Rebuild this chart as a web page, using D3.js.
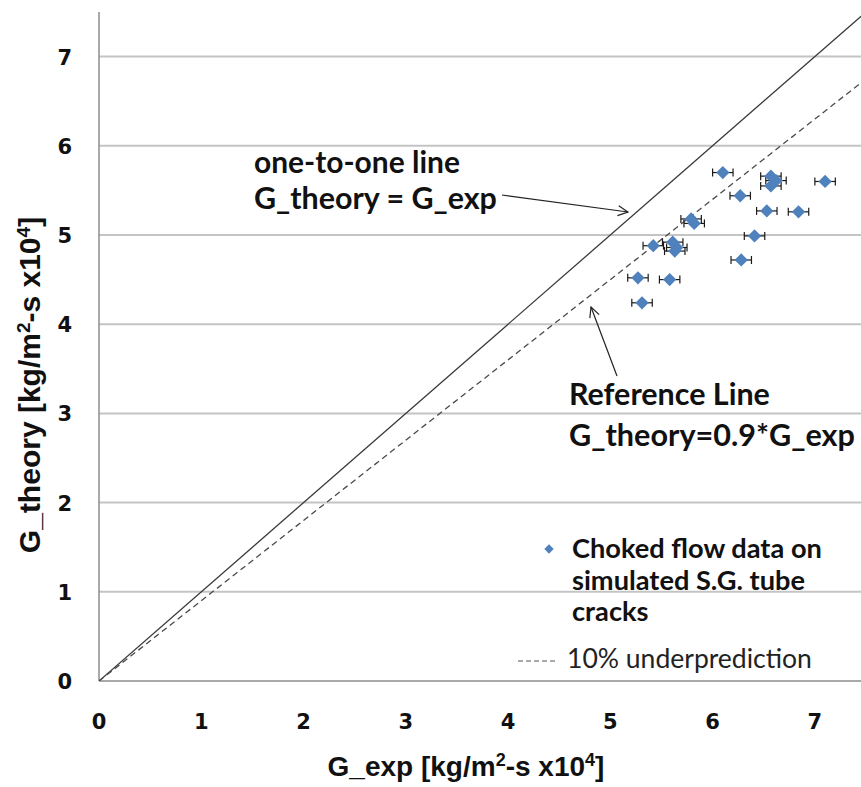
<!DOCTYPE html>
<html>
<head>
<meta charset="utf-8">
<script src="https://cdn.jsdelivr.net/npm/d3@7/dist/d3.min.js"></script>
<style>
  html, body { margin: 0; padding: 0; background: #fff; }
  svg { display: block; }
</style>
</head>
<body>
<svg id="chart" width="861" height="787"></svg>
<script>
// Measured choked mass flux: experiment vs. theory (units of 10^4 kg/m²-s)
const gExp    = [6.10, 6.57, 6.62, 6.57, 7.10, 6.27, 6.53, 6.84, 5.79, 5.82, 6.41, 5.42, 5.61, 5.63, 5.65, 6.28, 5.27, 5.58, 5.31];
const gTheory = [5.70, 5.66, 5.61, 5.55, 5.60, 5.44, 5.27, 5.26, 5.18, 5.13, 4.99, 4.88, 4.92, 4.82, 4.86, 4.72, 4.52, 4.50, 4.24];
const gExpErr = [0.10, 0.10, 0.10, 0.10, 0.10, 0.10, 0.10, 0.10, 0.10, 0.10, 0.10, 0.10, 0.10, 0.10, 0.10, 0.10, 0.10, 0.10, 0.10];

const xTicks = [0, 1, 2, 3, 4, 5, 6, 7];
const yTicks = [0, 1, 2, 3, 4, 5, 6, 7];
const refLines = [
  { name: "one-to-one", slope: 1.0 },
  { name: "underprediction", slope: 0.9 }
];

const svg = d3.select("#chart");
const x = d3.scaleLinear().domain([0, 7.5]).range([99, 866]);
const y = d3.scaleLinear().domain([0, 7.5]).range([681, 12]);

const BLUE = "#4f81bd";

// horizontal gridlines
svg.append("g").selectAll("line")
  .data(yTicks.filter(d => d > 0))
  .join("line")
  .attr("x1", x(0)).attr("x2", 861)
  .attr("y1", d => y(d)).attr("y2", d => y(d))
  .attr("stroke", "#c4c4c4").attr("stroke-width", 2);

// axes lines
svg.append("line").attr("x1", x(0)).attr("x2", 861).attr("y1", y(0)).attr("y2", y(0))
  .attr("stroke", "#8c8c8c").attr("stroke-width", 1.5);
svg.append("line").attr("x1", x(0)).attr("x2", x(0)).attr("y1", y(0)).attr("y2", y(7.5))
  .attr("stroke", "#8c8c8c").attr("stroke-width", 1.5);

// tick labels
const tickFont = "'DejaVu Sans', Verdana, sans-serif";
svg.append("g").selectAll("text")
  .data(xTicks).join("text")
  .attr("x", d => x(d)).attr("y", 729)
  .attr("text-anchor", "middle")
  .attr("font-family", tickFont).attr("font-weight", "bold").attr("font-size", 21)
  .attr("fill", "#111")
  .text(d => d);
svg.append("g").selectAll("text")
  .data(yTicks).join("text")
  .attr("x", 72).attr("y", d => y(d) + 8)
  .attr("text-anchor", "end")
  .attr("font-family", tickFont).attr("font-weight", "bold").attr("font-size", 21)
  .attr("fill", "#111")
  .text(d => d);

// axis titles
const titleFont = "'Liberation Sans Narrow', 'Arial Narrow', 'Liberation Sans', sans-serif";
function axisTitle(sel, main, sup) {
  sel.append("tspan").text(main + " [kg/m");
  sel.append("tspan").attr("dy", -10).attr("font-size", sup).text("2");
  sel.append("tspan").attr("dy", 10).text("-s x10");
  sel.append("tspan").attr("dy", -10).attr("font-size", sup).text("4");
  sel.append("tspan").attr("dy", 10).text("]");
}
const xt = svg.append("text")
  .attr("x", 466).attr("y", 776).attr("text-anchor", "middle")
  .attr("font-family", titleFont).attr("font-weight", "bold").attr("font-size", 28)
  .attr("fill", "#111");
axisTitle(xt, "G_exp", 18);

const yt = svg.append("text")
  .attr("transform", "translate(40,385) rotate(-90)")
  .attr("text-anchor", "middle")
  .attr("font-family", titleFont).attr("font-weight", "bold").attr("font-size", 30)
  .attr("fill", "#111");
axisTitle(yt, "G_theory", 19);

// reference lines G_theory = k * G_exp
svg.append("defs").append("clipPath").attr("id", "plotClip")
  .append("rect").attr("x", x(0)).attr("y", y(7.5)).attr("width", 861 - x(0)).attr("height", y(0) - y(7.5));
const lineGen = d3.line().x(d => x(d[0])).y(d => y(d[1]));
svg.append("g").attr("clip-path", "url(#plotClip)").selectAll("path")
  .data(refLines).join("path")
  .attr("d", d => lineGen([[0, 0], [8, 8 * d.slope]]))
  .attr("fill", "none")
  .attr("stroke", d => d.slope === 1 ? "#3a3a3a" : "#4a4a4a")
  .attr("stroke-width", 1.3)
  .attr("stroke-dasharray", d => d.slope === 1 ? null : "6,4");

// error bars
const eb = svg.append("g").attr("stroke", "#1a1a1a").attr("stroke-width", 1.2);
gExp.forEach((gx, i) => {
  const cy = y(gTheory[i]);
  const x0 = x(gx - gExpErr[i]), x1 = x(gx + gExpErr[i]);
  eb.append("line").attr("x1", x0).attr("x2", x1).attr("y1", cy).attr("y2", cy);
  eb.append("line").attr("x1", x0).attr("x2", x0).attr("y1", cy - 4).attr("y2", cy + 4);
  eb.append("line").attr("x1", x1).attr("x2", x1).attr("y1", cy - 4).attr("y2", cy + 4);
});

// square diamond marker
const squareDiamond = {
  draw(ctx, size) {
    const r = Math.sqrt(size / 2);
    ctx.moveTo(0, -r); ctx.lineTo(r, 0); ctx.lineTo(0, r); ctx.lineTo(-r, 0); ctx.closePath();
  }
};
svg.append("g").selectAll("path")
  .data(gExp.map((gx, i) => [gx, gTheory[i]]))
  .join("path")
  .attr("transform", d => `translate(${x(d[0])},${y(d[1])})`)
  .attr("d", d3.symbol().type(squareDiamond).size(88))
  .attr("fill", BLUE);

// annotations
const annFont = "Lato, 'Open Sans', sans-serif";
function fitText(sel, width) {
  const w = sel.node().getComputedTextLength();
  const fs = parseFloat(sel.attr("font-size"));
  sel.attr("font-size", fs * width / w);
}
const ann = [
  { t: "one-to-one line", x: 254, y: 173, w: 206 },
  { t: "G_theory = G_exp", x: 254, y: 209, w: 243 },
  { t: "Reference Line", x: 569, y: 405, w: 201 },
  { t: "G_theory=0.9*G_exp", x: 569, y: 446, w: 286 }
];
ann.forEach(a => {
  const t = svg.append("text").attr("x", a.x).attr("y", a.y)
    .attr("font-family", annFont).attr("font-weight", "bold").attr("font-size", 26)
    .attr("fill", "#111").text(a.t);
  fitText(t, a.w);
});

// arrows
const defs = svg.select("defs");
defs.append("marker").attr("id", "arrowOpen")
  .attr("viewBox", "0 0 12 12").attr("refX", 11).attr("refY", 6)
  .attr("markerWidth", 12).attr("markerHeight", 12).attr("markerUnits", "userSpaceOnUse")
  .attr("orient", "auto")
  .append("path").attr("d", "M1,1 L11,6 L1,11").attr("fill", "none")
  .attr("stroke", "#222").attr("stroke-width", 1.2);
svg.append("line").attr("x1", 502).attr("y1", 195).attr("x2", 628).attr("y2", 212)
  .attr("stroke", "#222").attr("stroke-width", 1.2).attr("marker-end", "url(#arrowOpen)");
svg.append("line").attr("x1", 617).attr("y1", 376).attr("x2", 591).attr("y2", 307)
  .attr("stroke", "#222").attr("stroke-width", 1.2).attr("marker-end", "url(#arrowOpen)");

// legend
const lg = svg.append("g");
lg.append("path").attr("transform", "translate(549,549)")
  .attr("d", d3.symbol().type(squareDiamond).size(44)).attr("fill", BLUE);
["Choked flow data on", "simulated S.G. tube", "cracks"].forEach((s, i) => {
  const t = lg.append("text").attr("x", 572).attr("y", 558 + i * 31.5)
    .attr("font-family", annFont).attr("font-weight", "bold").attr("font-size", 22)
    .attr("fill", "#111").text(s);
  if (i === 0) fitText(t, 250);
  else t.attr("font-size", lg.select("text").attr("font-size"));
});
lg.append("line").attr("x1", 518).attr("x2", 558).attr("y1", 661).attr("y2", 661)
  .attr("stroke", "#555").attr("stroke-width", 1.2).attr("stroke-dasharray", "5,3");
const lt = lg.append("text").attr("x", 567).attr("y", 668)
  .attr("font-family", annFont).attr("font-size", 22).attr("fill", "#222")
  .text("10% underprediction");
fitText(lt, 245);
</script>
</body>
</html>
